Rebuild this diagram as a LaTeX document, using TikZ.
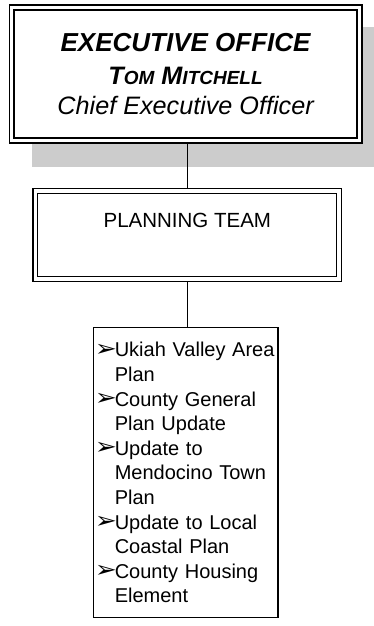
\documentclass[tikz,border=0pt]{standalone}
\usepackage{fontspec}
\setmainfont{Liberation Sans}
\newfontfamily\bulletfont{DejaVu Sans}
\usepackage{graphicx}
\usepackage{tikz}
\usetikzlibrary{positioning,backgrounds}
\definecolor{shadowgray}{RGB}{204,204,204}
\newcommand{\smallcap}[1]{{\fontsize{19}{19}\selectfont #1}}
\newcommand{\arrowbullet}{\makebox[21.5pt][l]{\hspace{1.5pt}\raisebox{0.5pt}{\scalebox{1.55}[1.35]{\bulletfont\fontsize{17}{17}\selectfont ➢}}}}
\newcommand{\hangline}{\hspace*{21.5pt}}
\tikzstyle{office} = [draw=black, double=white, double distance=3.2pt, line width=1.6pt, fill=white, minimum width=347.7pt, minimum height=133.3pt, inner sep=0pt, outer sep=0pt, align=center, font=\fontsize{25.2}{29.5}\selectfont\itshape]
\tikzstyle{team} = [draw=black, double=white, double distance=3.6pt, line width=1.2pt, fill=white, minimum width=303.7pt, minimum height=88pt, inner sep=0pt, outer sep=0pt, align=center, font=\fontsize{20.5}{24.6}\selectfont]
\tikzstyle{tasks} = [draw=black, line width=1.6pt, fill=white, minimum width=184.4pt, minimum height=290pt, text width=184.4pt, inner sep=0pt, outer sep=0pt, align=left, font=\fontsize{20}{24.6}\selectfont]
\tikzstyle{tedge} = [draw, line width=1.4pt]

\begin{document}
\begin{tikzpicture}[x=1pt, y=1pt]
\useasboundingbox (0,0) rectangle (374,-626);

% boxes =============================
\node[office] (exec) at (185.6,-74) {{\bfseries\fontsize{26}{29.5}\selectfont EXECUTIVE OFFICE}\\[3.8pt]
  {\bfseries T\smallcap{OM} M\smallcap{ITCHELL}}\\
  Chief Executive Officer};
\node[team, below=50.3pt of exec, xshift=1.7pt] (plan) {PLANNING TEAM\\[4.8pt]\mbox{}};
\node[tasks, below=48.7pt of plan, xshift=-1.8pt] (projects) {\arrowbullet Ukiah Valley Area\\
  \hangline Plan\\
  \arrowbullet County General\\
  \hangline Plan Update\\
  \arrowbullet Update to\\
  \hangline Mendocino Town\\
  \hangline Plan\\
  \arrowbullet Update to Local\\
  \hangline Coastal Plan\\
  \arrowbullet County Housing\\
  \hangline Element};

% shadow and edges
\begin{scope}[on background layer]
\fill[shadowgray] (32,-27) rectangle (374,-166.5);
\path[tedge] (plan.north) -- (plan.north |- exec.south);
\path[tedge] (plan.south) -- (plan.south |- projects.north);
\end{scope}

\end{tikzpicture}
\end{document}
